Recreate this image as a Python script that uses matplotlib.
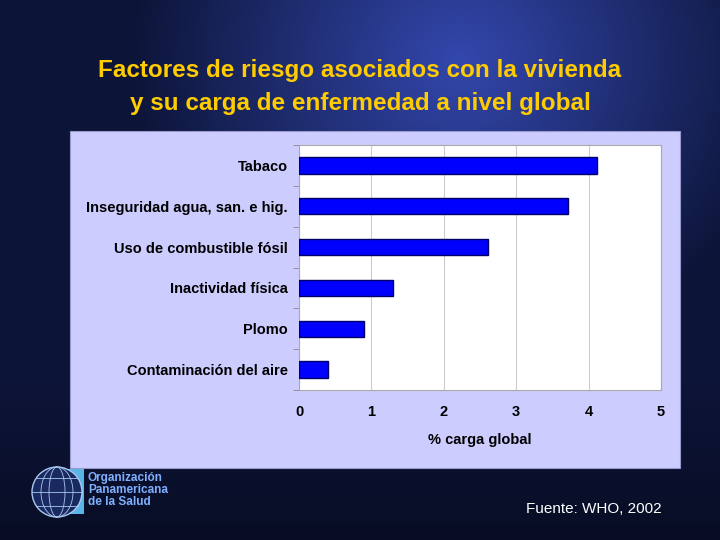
import numpy as np
import matplotlib
matplotlib.use("Agg")
import matplotlib.pyplot as plt
from matplotlib.patches import Rectangle, Circle, Ellipse

categories = ["Tabaco", "Inseguridad agua, san. e hig.", "Uso de combustible fósil",
              "Inactividad física", "Plomo", "Contaminación del aire"]
values = [4.11, 3.72, 2.61, 1.30, 0.90, 0.40]
xticks = [0, 1, 2, 3, 4, 5]
title = "Factores de riesgo asociados con la vivienda\ny su carga de enfermedad a nivel global"
xlabel = "% carga global"
source = "Fuente: WHO, 2002"
org = "Organización\nPanamericana\nde la Salud"

plt.rcParams['font.family'] = ['Liberation Sans', 'DejaVu Sans']

fig = plt.figure(figsize=(7.2, 5.4), dpi=100)

# background gradient
bg = fig.add_axes([0, 0, 1, 1])
bg.set_axis_off()
H, W = 540, 720
yy, xx = np.mgrid[0:H, 0:W]
d = np.sqrt(((xx - 460) / 330.0) ** 2 + ((yy - 60) / 300.0) ** 2)
t = np.clip(1 - d, 0, 1)
dark = np.array([0.05, 0.08, 0.22])
light = np.array([0.20, 0.28, 0.68])
img = dark[None, None, :] * (1 - t[..., None]) + light[None, None, :] * t[..., None]
fade = np.clip((yy - 380) / 160.0, 0, 1)[..., None]
img = img * (1 - 0.35 * fade)
bg.imshow(img, extent=[0, W, H, 0], aspect='auto')
bg.set_xlim(0, W)
bg.set_ylim(H, 0)

# chart panel
bg.add_patch(Rectangle((70, 131), 610, 337, facecolor='#ccccff', edgecolor='#9999cc', lw=0.8))

# title
bg.text(360, 87, title, ha='center', va='center', color='#ffcc00', fontsize=17.5,
        fontweight='bold', linespacing=1.55)

# logo
bg.add_patch(Rectangle((62, 469), 22, 45, facecolor='#5ab4e8', edgecolor='none'))
bg.add_patch(Circle((57, 492), 25, facecolor='#1a2a60', edgecolor='#a8c8f0', lw=1.0))
for w in [8, 16]:
    bg.add_patch(Ellipse((57, 492), w * 2, 50, facecolor='none', edgecolor='#a8c8f0', lw=0.6))
for dy in [-14, 0, 14]:
    half = np.sqrt(25 ** 2 - dy ** 2)
    bg.plot([57 - half, 57 + half], [492 + dy, 492 + dy], color='#a8c8f0', lw=0.6)
bg.text(88, 490, org, ha='left', va='center', color='#7fb0ff', fontsize=8.5,
        fontweight='bold', linespacing=0.95)

bg.text(594, 509, source, ha='center', va='center', color='white', fontsize=11)

# chart
ax = fig.add_axes([299 / 720, 1 - 390 / 540, (661 - 299) / 720, (390 - 145) / 540])
ypos = np.arange(len(categories))
ax.barh(ypos, values, height=0.4, color='#0000ff', edgecolor='#000066', lw=1.0, zorder=3)
ax.set_ylim(len(categories) - 0.5, -0.5)
ax.set_xlim(0, 5)
ax.set_xticks(xticks)
ax.set_xticklabels([str(v) for v in xticks], fontweight='bold', fontsize=10.5)
ax.set_yticks(ypos)
ax.set_yticklabels(categories, fontweight='bold', fontsize=10.5)
ax.tick_params(axis='y', length=0, pad=8)
ax.set_yticks(np.arange(len(categories) + 1) - 0.5, minor=True)
ax.tick_params(axis='y', which='minor', length=4, color='#888888')
ax.tick_params(axis='x', length=0, pad=11)
ax.grid(axis='x', color='#cccccc', lw=0.8, zorder=0)
ax.set_xlabel(xlabel, fontweight='bold', fontsize=10.5, labelpad=10)
for s in ax.spines.values():
    s.set_color('#aaaaaa')
    s.set_linewidth(0.8)
ax.set_facecolor('white')

fig.savefig("out.png", dpi=100)
